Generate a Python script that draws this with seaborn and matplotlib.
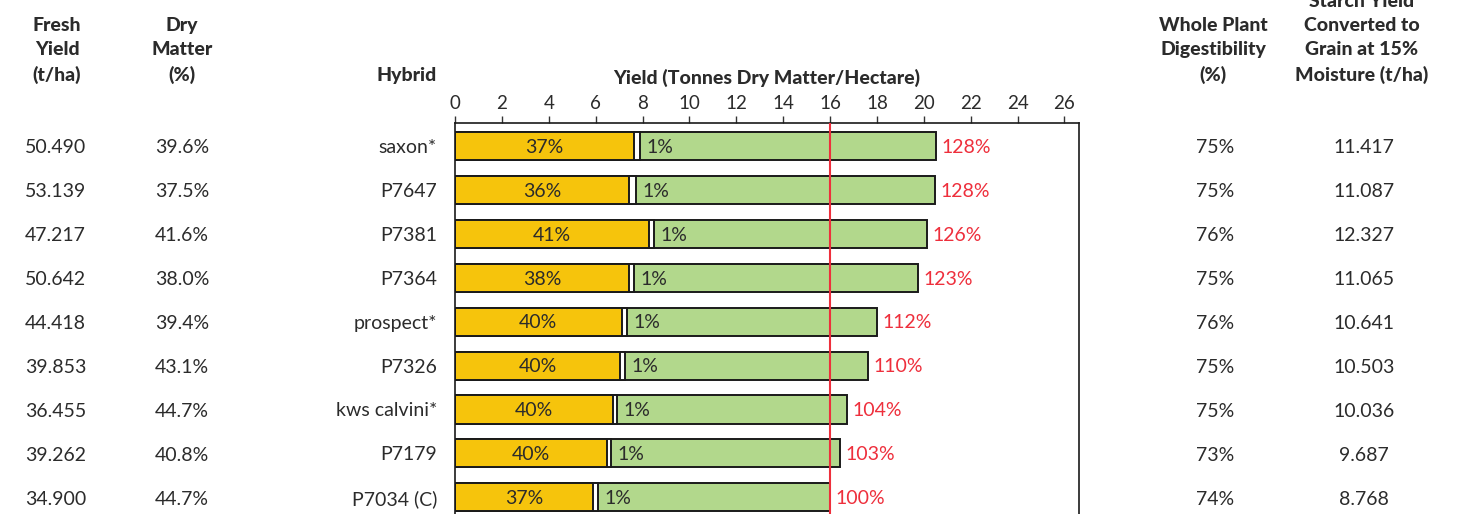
import matplotlib
matplotlib.use("Agg")
import matplotlib.pyplot as plt
import matplotlib.transforms as mtransforms
import pandas as pd
import seaborn as sns

# --- Data ---
hybrids = ["saxon*", "P7647", "P7381", "P7364", "prospect*", "P7326",
           "kws calvini*", "P7179", "P7034 (C)"]
fresh_yield = ["50.490", "53.139", "47.217", "50.642", "44.418", "39.853",
               "36.455", "39.262", "34.900"]
dry_matter = ["39.6%", "37.5%", "41.6%", "38.0%", "39.4%", "43.1%",
              "44.7%", "40.8%", "44.7%"]
digestibility = ["75%", "75%", "76%", "75%", "76%", "75%", "75%", "73%", "74%"]
starch_grain = ["11.417", "11.087", "12.327", "11.065", "10.641", "10.503",
                "10.036", "9.687", "8.768"]

# stacked segments (t DM/ha)
seg_yellow = [7.64, 7.41, 8.26, 7.41, 7.11, 7.04, 6.74, 6.49, 5.89]
seg_white = [0.26, 0.31, 0.23, 0.24, 0.23, 0.21, 0.17, 0.18, 0.19]
total_yield = [20.52, 20.47, 20.14, 19.74, 17.99, 17.61, 16.72, 16.42, 15.99]
yellow_pct = ["37%", "36%", "41%", "38%", "40%", "40%", "40%", "40%", "37%"]
white_pct = ["1%"] * 9
rel_yield = ["128%", "128%", "126%", "123%", "112%", "110%", "104%", "103%", "100%"]
check_yield = 16.0

YELLOW = "#F6C40C"
GREEN = "#B2D88C"
RED = "#EE2F3C"
TXT = "#2b2b2b"

sns.set_style("white")
plt.rcParams["font.family"] = ["Lato", "DejaVu Sans"]

W, H = 1468, 514
fig = plt.figure(figsize=(W / 100, H / 100), dpi=100)
ax = fig.add_axes([455 / W, 0, (1079 - 455) / W, (H - 123) / H])

df = pd.DataFrame({
    "hybrid": hybrids,
    "total": total_yield,
    "yw": [a + b for a, b in zip(seg_yellow, seg_white)],
    "yellow": seg_yellow,
})

# draw cumulative bars back to front so they look stacked
bar_kw = dict(orient="h", width=0.64, edgecolor="#1a1a1a", linewidth=1.4)
sns.barplot(data=df, x="total", y="hybrid", color=GREEN, saturation=1, ax=ax, **bar_kw)
sns.barplot(data=df, x="yw", y="hybrid", color="white", saturation=1, ax=ax, **bar_kw)
sns.barplot(data=df, x="yellow", y="hybrid", color=YELLOW, saturation=1, ax=ax, **bar_kw)

ax.axvline(check_yield, color=RED, lw=1.5, zorder=5)

for i in range(len(hybrids)):
    ax.text(seg_yellow[i] / 2, i + 0.03, yellow_pct[i], ha="center", va="center",
            fontsize=14, color=TXT)
    ax.text(seg_yellow[i] + seg_white[i] + 0.85, i + 0.03, white_pct[i], ha="center",
            va="center", fontsize=14, color=TXT)
    ax.text(total_yield[i] + 0.25, i + 0.03, rel_yield[i], ha="left", va="center",
            fontsize=14, color=RED)

ax.xaxis.tick_top()
ax.xaxis.set_label_position("top")
ax.set_xticks(range(0, 27, 2))
ax.tick_params(axis="x", direction="out", length=5, width=1, colors="#333333",
               labelsize=13.5, pad=3, labelcolor=TXT)
ax.set_xlabel("Yield (Tonnes Dry Matter/Hectare)", fontsize=14, fontweight="black",
              color=TXT, labelpad=8)
ax.set_ylabel("")
ax.set_yticks(range(len(hybrids)))
ax.set_yticklabels(hybrids)
ax.set_yticks([i + 0.5 for i in range(-1, len(hybrids))], minor=True)
ax.tick_params(axis="y", which="major", length=0, pad=13, labelsize=14, labelcolor=TXT)
ax.tick_params(axis="y", which="minor", length=4, width=1, color="#333333", direction="out")
for side in ["top", "left", "right"]:
    ax.spines[side].set_visible(True)
    ax.spines[side].set_color("#1a1a1a")
    ax.spines[side].set_linewidth(1.2)
ax.spines["bottom"].set_visible(False)

# limits last: set_yticks would widen them again
ax.set_xlim(0, 26.62)
ax.set_ylim(8.38, -0.524)

# side table columns: x in figure pixels, y in data rows
tr = mtransforms.blended_transform_factory(fig.transFigure, ax.transData)
for i in range(len(hybrids)):
    ax.text(25 / W, i + 0.04, fresh_yield[i], transform=tr, ha="left", va="center",
            fontsize=14, color=TXT, clip_on=False)
    ax.text(182 / W, i + 0.04, dry_matter[i], transform=tr, ha="center", va="center",
            fontsize=14, color=TXT, clip_on=False)
    ax.text(1215 / W, i + 0.04, digestibility[i], transform=tr, ha="center", va="center",
            fontsize=14, color=TXT, clip_on=False)
    ax.text(1364 / W, i + 0.04, starch_grain[i], transform=tr, ha="center", va="center",
            fontsize=14, color=TXT, clip_on=False)

# column headers
hdr = dict(ha="center", va="bottom", fontsize=14, fontweight="black", color=TXT,
           linespacing=1.5)
hy = 1 - 84 / H
fig.text(57 / W, hy, "Fresh\nYield\n(t/ha)", **hdr)
fig.text(182 / W, hy, "Dry\nMatter\n(%)", **hdr)
fig.text(437 / W, hy, "Hybrid", **{**hdr, "ha": "right"})
fig.text(1213 / W, hy, "Whole Plant\nDigestibility\n(%)", **hdr)
fig.text(1362 / W, hy, "Starch Yield\nConverted to\nGrain at 15%\nMoisture (t/ha)", **hdr)

fig.savefig("out.png", dpi=100)
